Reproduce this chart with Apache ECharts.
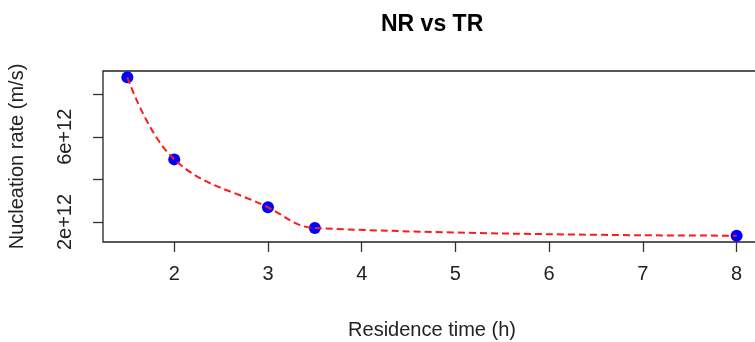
<!DOCTYPE html>
<html>
<head>
<meta charset="utf-8">
<script src="https://cdn.jsdelivr.net/npm/echarts@6/dist/echarts.min.js"></script>
<style>
  html, body { margin: 0; padding: 0; background: #fff; }
  #chart { width: 755px; height: 342px; }
</style>
</head>
<body>
<div id="chart"></div>
<script>
// residence time (h) vs nucleation rate (m/s)
const residenceTime = [1.5, 2, 3, 3.5, 8];
const nucleationRate = [8.79e12, 4.94e12, 2.69e12, 1.72e12, 1.36e12];
const xTicks = [2, 3, 4, 5, 6, 7, 8];
const yTicks = [2e12, 4e12, 6e12, 8e12];
const yLabels = [2e12, 6e12];

const points = residenceTime.map((t, i) => [t, nucleationRate[i]]);

const chart = echarts.init(document.getElementById('chart'));
const fontFam = '"Liberation Sans", Arial, sans-serif';

chart.setOption({
  animation: false,
  title: {
    text: 'NR vs TR',
    left: 376,
    top: 8,
    textStyle: { fontFamily: fontFam, fontSize: 23, fontWeight: 'bold', color: '#000' }
  },
  grid: {
    left: 103, top: 71, width: 658, height: 171,
    outerBoundsMode: 'none',
    show: true, borderColor: '#222', borderWidth: 1.3, backgroundColor: 'transparent'
  },
  xAxis: {
    type: 'value',
    min: 1.24, max: 8.26,
    name: 'Residence time (h)',
    nameLocation: 'middle',
    nameGap: 78,
    nameTextStyle: { fontFamily: fontFam, fontSize: 20, color: '#222' },
    axisLine: { show: false },
    splitLine: { show: false },
    axisTick: { show: true, inside: false, length: 10, customValues: xTicks, lineStyle: { color: '#333', width: 1.3 } },
    axisLabel: { customValues: xTicks, margin: 22, fontFamily: fontFam, fontSize: 20, color: '#222' }
  },
  yAxis: {
    type: 'value',
    min: 1.063e12, max: 9.087e12,
    name: 'Nucleation rate (m/s)',
    nameLocation: 'middle',
    nameGap: 76,
    nameRotate: 90,
    nameTextStyle: { fontFamily: fontFam, fontSize: 20, color: '#222' },
    axisLine: { show: false },
    splitLine: { show: false },
    axisTick: { show: true, inside: false, length: 10, customValues: yTicks, lineStyle: { color: '#333', width: 1.3 } },
    axisLabel: {
      customValues: yLabels,
      rotate: 90,
      margin: 28,
      fontFamily: fontFam, fontSize: 20, color: '#222',
      formatter: v => (v / 1e12) + 'e+12'
    }
  },
  series: [
    {
      type: 'scatter',
      data: points,
      symbol: 'circle',
      symbolSize: 12,
      itemStyle: { color: '#0000ff', opacity: 1 },
      z: 2
    },
    {
      type: 'line',
      data: points,
      smooth: 0.4,
      showSymbol: false,
      lineStyle: { color: '#ff1a1a', width: 2, type: [7, 4] },
      z: 3
    }
  ]
});
</script>
</body>
</html>
